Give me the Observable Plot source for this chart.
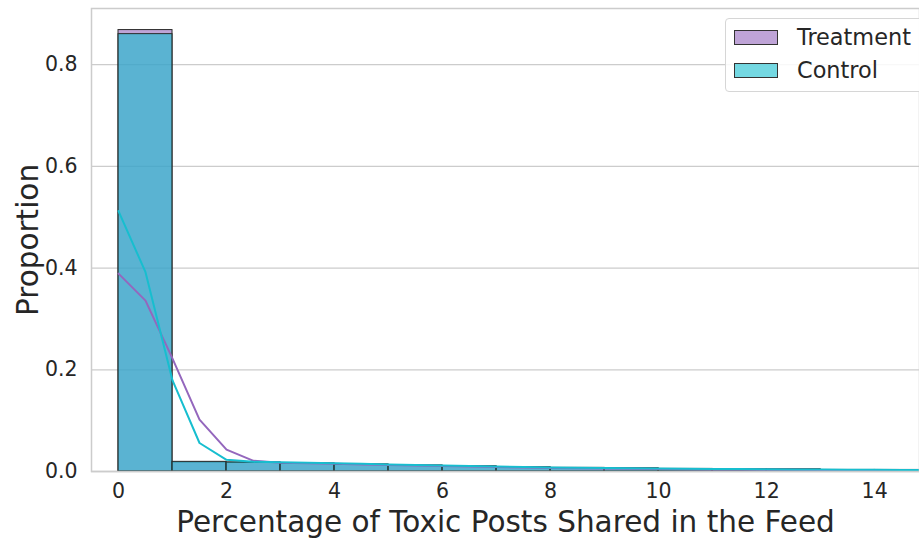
<!DOCTYPE html>
<html>
<head>
<meta charset="utf-8">
<script src="https://cdn.jsdelivr.net/npm/d3@7"></script>
<script src="https://cdn.jsdelivr.net/npm/@observablehq/plot@0.6"></script>
<style>
  html, body { margin: 0; padding: 0; background: #fff; }
  #wrap { position: relative; width: 919px; height: 541px; font-family: "DejaVu Sans", sans-serif; overflow: hidden; }
  #legend { position: absolute; left: 725px; top: 18px; width: 200px; height: 74px; border: 1px solid #d6d6d6; border-radius: 4px; background: rgba(255,255,255,0.85); box-sizing: border-box; }
  .item { position: absolute; left: 8px; display: flex; align-items: center; font-size: 22.4px; color: #262626; }
  .sw { width: 44px; height: 15px; border: 1px solid #333; margin-right: 19px; box-sizing: border-box; }
</style>
</head>
<body>
<div id="wrap"></div>
<script>
// Histogram bins (width 1) and proportions
const binStarts = [0,1,2,3,4,5,6,7,8,9,10,11,12,13,14];
const treatmentBins = [0.868,0.018,0.017,0.015,0.013,0.011,0.010,0.008,0.007,0.006,0.005,0.004,0.004,0.003,0.003];
const controlBins   = [0.860,0.019,0.018,0.016,0.014,0.012,0.010,0.008,0.007,0.006,0.005,0.004,0.004,0.003,0.003];

// Line series (density-like curves) at half-unit points
const lineX = [0,0.5,1,1.5,2,2.5,3,3.5,4,4.5,5,5.5,6,6.5,7,7.5,8,8.5,9,9.5,10,10.5,11,11.5,12,12.5,13,13.5,14,14.5,15];
const treatmentLine = [0.389,0.336,0.222,0.102,0.043,0.021,0.017,0.016,0.015,0.014,0.013,0.012,0.011,0.010,0.009,0.008,0.007,0.0065,0.006,0.0055,0.005,0.0045,0.004,0.0038,0.0035,0.0032,0.003,0.0028,0.0026,0.0024,0.0022];
const controlLine   = [0.512,0.392,0.179,0.056,0.023,0.019,0.018,0.017,0.016,0.015,0.014,0.013,0.012,0.011,0.010,0.009,0.008,0.0075,0.007,0.0065,0.006,0.0055,0.005,0.0047,0.0044,0.004,0.0037,0.0034,0.0032,0.003,0.0028];

const xTicks = [0,2,4,6,8,10,12,14];
const yTicks = [0,0.2,0.4,0.6,0.8];
const seriesNames = ["Treatment","Control"];
const seriesColors = ["#9467bd","#17becf"];

const tBars = binStarts.map((s,i)=>({x1:s, x2:s+1, y:treatmentBins[i]}));
const cBars = binStarts.map((s,i)=>({x1:s, x2:s+1, y:controlBins[i]}));
const tLine = lineX.map((x,i)=>({x, y:treatmentLine[i]}));
const cLine = lineX.map((x,i)=>({x, y:controlLine[i]}));

const chart = Plot.plot({
  width: 919,
  height: 541,
  marginLeft: 91,
  marginRight: 0,
  marginTop: 8,
  marginBottom: 70,
  style: {fontFamily: "DejaVu Sans, sans-serif", fontSize: "20.5px", color: "#262626", background: "#fff"},
  x: {domain: [-0.5, 14.83]},
  y: {domain: [0, 0.9104]},
  marks: [
    Plot.gridY(yTicks, {stroke: "#cccccc", strokeOpacity: 1, strokeWidth: 1.3}),
    Plot.rectY(tBars, {x1:"x1", x2:"x2", y:"y", fill: seriesColors[0], fillOpacity: 0.6, stroke: "#2b2b2b", strokeWidth: 1, clip: true}),
    Plot.rectY(cBars, {x1:"x1", x2:"x2", y:"y", fill: seriesColors[1], fillOpacity: 0.6, stroke: "#2b2b2b", strokeWidth: 1, clip: true}),
    Plot.line(tLine, {x:"x", y:"y", stroke: seriesColors[0], strokeWidth: 2, clip: true}),
    Plot.line(cLine, {x:"x", y:"y", stroke: seriesColors[1], strokeWidth: 2, clip: true}),
    Plot.frame({stroke: "#cccccc", strokeWidth: 1.5}),
    Plot.axisX(xTicks, {tickSize: 0, tickPadding: 12, label: null, fontSize: 20.5}),
    Plot.axisY(yTicks, {tickSize: 0, tickPadding: 14, label: null, fontSize: 20.5, tickFormat: d3.format(".1f")}),
    Plot.text(["Percentage of Toxic Posts Shared in the Feed"], {frameAnchor: "bottom", dy: 60, fontSize: 29.5, fill: "#262626"}),
    Plot.text(["Proportion"], {frameAnchor: "left", textAnchor: "middle", rotate: -90, dx: -63, fontSize: 29.5, fill: "#262626"})
  ]
});

const wrap = document.getElementById("wrap");
wrap.appendChild(chart);
const legend = document.createElement("div");
legend.id = "legend";
seriesNames.forEach((name, i) => {
  const it = document.createElement("div");
  it.className = "item";
  it.style.top = (i === 0 ? 5 : 38) + "px";
  const sw = document.createElement("div");
  sw.className = "sw";
  sw.style.background = d3.color(seriesColors[i]).copy({opacity: 0.6}).toString();
  const tx = document.createElement("span");
  tx.textContent = name;
  it.appendChild(sw); it.appendChild(tx);
  legend.appendChild(it);
});
wrap.appendChild(legend);
</script>
</body>
</html>
